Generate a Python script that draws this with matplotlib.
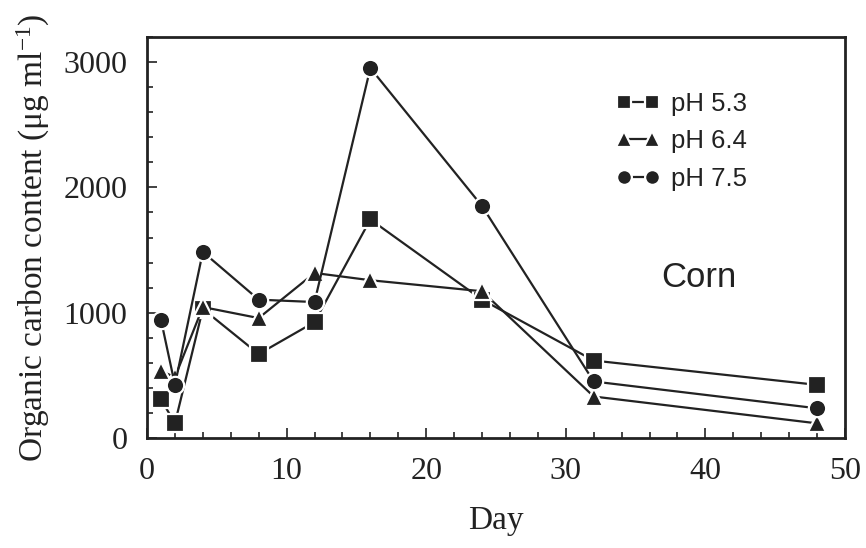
import numpy as np
import matplotlib
matplotlib.use("Agg")
import matplotlib.pyplot as plt
from matplotlib.ticker import MultipleLocator

# 数据
days = [1, 2, 4, 8, 12, 16, 24, 32, 48]
ph53 = [310, 117, 1030, 670, 925, 1744, 1104, 618, 424]
ph64 = [536, 485, 1045, 957, 1317, 1259, 1171, 331, 117]
ph75 = [944, 424, 1485, 1104, 1085, 2952, 1851, 451, 237]

series_labels = ["pH 5.3", "pH 6.4", "pH 7.5"]
series_markers = ["s", "^", "o"]

plt.rcParams['mathtext.fontset'] = 'custom'
plt.rcParams['mathtext.rm'] = 'Liberation Serif'
plt.rcParams['mathtext.it'] = 'Liberation Serif'

ink = '#222222'
serif = ['Liberation Serif', 'DejaVu Serif']
sans = ['Liberation Sans', 'DejaVu Sans']

fig = plt.figure(figsize=(8.66, 5.48), dpi=100)
ax = fig.add_axes([147 / 866, 1 - 438 / 548, (845 - 147) / 866, (438 - 37) / 548])

for vals, lab, mk in zip([ph53, ph64, ph75], series_labels, series_markers):
    ms = 13 if mk == '^' else 12.5
    ax.plot(days, vals, color=ink, linewidth=1.6, marker=mk, markersize=ms,
            markerfacecolor=ink, markeredgecolor='white', markeredgewidth=1.6,
            label=lab)

ax.set_xlim(0, 50)
ax.set_ylim(0, 3200)
ax.xaxis.set_major_locator(MultipleLocator(10))
ax.xaxis.set_minor_locator(MultipleLocator(2))
ax.yaxis.set_major_locator(MultipleLocator(1000))
ax.yaxis.set_minor_locator(MultipleLocator(200))
ax.tick_params(which='both', direction='in', color=ink, width=1.2,
               top=False, right=False)
ax.tick_params(which='major', length=7, pad=14)
ax.tick_params(which='minor', length=4)
for spine in ax.spines.values():
    spine.set_linewidth(2)
    spine.set_color(ink)

for lbl in ax.get_xticklabels() + ax.get_yticklabels():
    lbl.set_fontfamily(serif)
    lbl.set_fontsize(23)
    lbl.set_color(ink)

ax.set_xlabel("Day", fontsize=24, family=serif, color=ink, labelpad=14)
ax.set_ylabel("Organic carbon content (μg ml$^{-1}$)", fontsize=24,
              family=serif, color=ink, labelpad=8)

leg = ax.legend(loc='center left', bbox_to_anchor=(0.672, 0.74), frameon=False,
                numpoints=2, handlelength=1.7, handletextpad=0.45,
                markerscale=0.85, labelspacing=0.52, borderaxespad=0,
                borderpad=0,
                prop={'family': sans, 'size': 18.5})
for t in leg.get_texts():
    t.set_color(ink)

ax.text(0.79, 0.40, "Corn", transform=ax.transAxes, fontsize=25,
        family=sans, color=ink, ha='center', va='center')

plt.savefig("out.png", dpi=100)
plt.close()
